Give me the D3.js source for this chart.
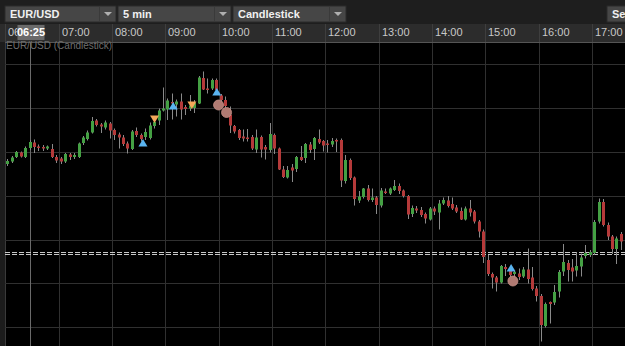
<!DOCTYPE html>
<html>
<head>
<meta charset="utf-8">
<script src="https://cdn.jsdelivr.net/npm/d3@7/dist/d3.min.js"></script>
<style>
  body { margin: 0; background: #000; overflow: hidden; }
  svg { display: block; font-family: "Liberation Sans", Arial, sans-serif; }
</style>
</head>
<body>
<svg id="chart" width="625" height="346"></svg>
<script>
// toolbar
const symbolName = "EUR/USD";
const intervalName = "5 min";
const chartTypeName = "Candlestick";

// 5 minute bars starting 06:00
const firstBar = "06:00";
const barMinutes = 5;

const openP = [
  1.34072,1.34077,1.34086,1.34095,1.34086,1.34104,1.34115,1.34107,1.34106,1.34103,
  1.34102,1.34086,1.34083,1.34077,1.34091,1.34086,1.34086,1.34114,1.34122,1.34135,
  1.34159,1.34151,1.34145,1.34153,1.34140,1.34131,1.34125,1.34113,1.34102,1.34138,
  1.34130,1.34126,1.34124,1.34148,1.34159,1.34179,1.34181,1.34196,1.34191,1.34197,
  1.34186,1.34183,1.34184,1.34193,1.34244,1.34223,1.34223,1.34240,1.34209,1.34200,
  1.34170,1.34148,1.34140,1.34127,1.34125,1.34126,1.34101,1.34126,1.34106,1.34100,
  1.34130,1.34103,1.34061,1.34045,1.34065,1.34062,1.34086,1.34084,1.34111,1.34102,
  1.34122,1.34118,1.34113,1.34111,1.34120,1.34120,1.34038,1.34080,1.34045,1.33999,
  1.34006,1.34023,1.34000,1.34005,1.33989,1.34017,1.34013,1.34020,1.34028,1.34019,
  1.34008,1.33972,1.33983,1.33980,1.33972,1.33961,1.33983,1.33975,1.33993,1.33999,
  1.33992,1.33985,1.33978,1.33961,1.33983,1.33977,1.33957,1.33937,1.33880,1.33852,
  1.33845,1.33835,1.33866,1.33860,1.33852,1.33853,1.33847,1.33861,1.33845,1.33823,
  1.33808,1.33748,1.33796,1.33795,1.33817,1.33857,1.33874,1.33865,1.33859,1.33867,
  1.33888,1.33890,1.33894,1.33957,1.33996,1.33950,1.33927,1.33902,1.33932
];
const highP = [
  1.34082,1.34088,1.34098,1.34097,1.34107,1.34120,1.34121,1.34111,1.34110,1.34109,
  1.34112,1.34090,1.34086,1.34094,1.34094,1.34094,1.34115,1.34128,1.34139,1.34166,
  1.34162,1.34154,1.34159,1.34156,1.34143,1.34135,1.34130,1.34117,1.34140,1.34145,
  1.34133,1.34143,1.34155,1.34160,1.34183,1.34225,1.34203,1.34213,1.34201,1.34213,
  1.34190,1.34210,1.34200,1.34248,1.34257,1.34243,1.34243,1.34243,1.34212,1.34207,
  1.34187,1.34150,1.34142,1.34141,1.34142,1.34130,1.34141,1.34129,1.34110,1.34154,
  1.34133,1.34105,1.34068,1.34068,1.34072,1.34088,1.34108,1.34114,1.34116,1.34126,
  1.34141,1.34120,1.34120,1.34124,1.34123,1.34123,1.34090,1.34083,1.34047,1.34018,
  1.34024,1.34030,1.34023,1.34008,1.34024,1.34023,1.34025,1.34040,1.34033,1.34021,
  1.34010,1.33989,1.33988,1.33986,1.33975,1.33986,1.33987,1.34000,1.34005,1.34008,
  1.34005,1.33990,1.33985,1.33987,1.34000,1.33980,1.33960,1.33941,1.33890,1.33855,
  1.33848,1.33870,1.33872,1.33864,1.33858,1.33863,1.33866,1.33903,1.33866,1.33828,
  1.33812,1.33795,1.33797,1.33830,1.33860,1.33912,1.33880,1.33882,1.33895,1.33893,
  1.33910,1.33900,1.33960,1.34003,1.34002,1.33955,1.33930,1.33927,1.33936
];
const lowP = [
  1.34068,1.34074,1.34084,1.34085,1.34084,1.34100,1.34094,1.34098,1.34098,1.34100,
  1.34084,1.34074,1.34072,1.34074,1.34080,1.34082,1.34084,1.34110,1.34119,1.34133,
  1.34147,1.34134,1.34141,1.34123,1.34120,1.34103,1.34108,1.34093,1.34100,1.34126,
  1.34117,1.34120,1.34121,1.34143,1.34150,1.34177,1.34160,1.34161,1.34167,1.34161,
  1.34170,1.34178,1.34174,1.34192,1.34220,1.34213,1.34220,1.34216,1.34196,1.34180,
  1.34134,1.34133,1.34120,1.34117,1.34117,1.34100,1.34094,1.34085,1.34081,1.34095,
  1.34092,1.34060,1.34044,1.34043,1.34036,1.34056,1.34078,1.34074,1.34094,1.34080,
  1.34112,1.34097,1.34095,1.34106,1.34096,1.34026,1.34033,1.34040,1.33989,1.33994,
  1.34003,1.33997,1.33996,1.33972,1.33985,1.34012,1.34010,1.34018,1.34012,1.34005,
  1.33962,1.33966,1.33974,1.33966,1.33953,1.33959,1.33970,1.33941,1.33990,1.33985,
  1.33980,1.33974,1.33960,1.33959,1.33967,1.33953,1.33925,1.33874,1.33848,1.33823,
  1.33817,1.33833,1.33848,1.33844,1.33836,1.33840,1.33844,1.33833,1.33819,1.33797,
  1.33717,1.33745,1.33753,1.33790,1.33805,1.33848,1.33837,1.33837,1.33847,1.33847,
  1.33883,1.33886,1.33890,1.33953,1.33947,1.33920,1.33892,1.33872,1.33900
];
const closeP = [
  1.34078,1.34085,1.34096,1.34087,1.34104,1.34116,1.34106,1.34104,1.34104,1.34107,
  1.34086,1.34079,1.34077,1.34092,1.34086,1.34090,1.34113,1.34125,1.34135,1.34158,
  1.34150,1.34147,1.34155,1.34139,1.34130,1.34125,1.34112,1.34103,1.34137,1.34130,
  1.34122,1.34136,1.34149,1.34156,1.34179,1.34183,1.34199,1.34193,1.34197,1.34181,
  1.34182,1.34189,1.34194,1.34245,1.34221,1.34220,1.34240,1.34220,1.34200,1.34188,
  1.34149,1.34137,1.34124,1.34123,1.34122,1.34103,1.34125,1.34101,1.34101,1.34132,
  1.34103,1.34061,1.34046,1.34060,1.34059,1.34086,1.34080,1.34112,1.34100,1.34124,
  1.34115,1.34109,1.34110,1.34118,1.34117,1.34039,1.34080,1.34044,1.34002,1.34007,
  1.34023,1.34000,1.34005,1.33990,1.34019,1.34014,1.34023,1.34028,1.34018,1.34008,
  1.33971,1.33984,1.33979,1.33970,1.33963,1.33983,1.33977,1.33993,1.34000,1.33988,
  1.33983,1.33977,1.33961,1.33983,1.33975,1.33957,1.33937,1.33886,1.33852,1.33845,
  1.33835,1.33868,1.33862,1.33850,1.33856,1.33846,1.33861,1.33842,1.33822,1.33808,
  1.33750,1.33792,1.33792,1.33816,1.33856,1.33876,1.33860,1.33857,1.33868,1.33885,
  1.33894,1.33896,1.33956,1.33996,1.33950,1.33927,1.33902,1.33923,1.33917
];

// axis
const hourLabels = ["06:00","07:00","08:00","09:00","10:00","11:00","12:00",
                    "13:00","14:00","15:00","16:00","17:00"];
const gridPrices = [1.34272, 1.34184, 1.34096, 1.34008, 1.33921, 1.33834, 1.33746];
const cursorTime = "06:25";
const priceLine = 1.33892;

// trade markers
const buyTimes = ["08:35", "09:09", "09:58", "15:29"];
const buyPrices = [1.34114, 1.34188, 1.34216, 1.33864];
const sellTimes = ["08:48", "09:30"];
const sellPrices = [1.34162, 1.34190];
const exitTimes = ["10:00", "10:09", "15:31"];
const exitPrices = [1.34190, 1.34175, 1.33838];

const W = 625, H = 346;
const plotTop = 42, plotLeft = 5;
const parseT = d3.timeParse("%H:%M");
const t0 = parseT(firstBar);

const x = d3.scaleTime()
  .domain([t0, parseT("17:40")])
  .range([5.15, 627.6]);
const y = d3.scaleLinear()
  .domain([1.3440, 1.3360])
  .range([0, 400]);

const bars = openP.map((o, i) => ({
  t: d3.timeMinute.offset(t0, barMinutes * i),
  o: o, h: highP[i], l: lowP[i], c: closeP[i]
}));
const halfBar = (x(d3.timeMinute.offset(t0, barMinutes)) - x(t0)) / 2;
const px = v => Math.round(v) + 0.5;
const cx = px(x(parseT(cursorTime)) + halfBar);

const svg = d3.select("#chart");

// the cursor label hides most of the first hour label
svg.append("clipPath").attr("id", "axisClip")
  .append("rect").attr("x", 0).attr("y", 24).attr("width", cx - 13).attr("height", 18);

// toolbar
svg.append("rect").attr("width", W).attr("height", 24).attr("fill", "#1e1e1e");
const boxes = [
  {label: symbolName, x0: 5, x1: 116},
  {label: intervalName, x0: 118, x1: 231},
  {label: chartTypeName, x0: 233, x1: 346}
];
const tb = svg.append("g");
boxes.forEach(b => {
  tb.append("rect").attr("x", b.x0).attr("y", 6).attr("width", b.x1 - b.x0).attr("height", 16)
    .attr("fill", "#464646").attr("stroke", "#2a2a2a");
  tb.append("line").attr("x1", b.x1 - 16.5).attr("x2", b.x1 - 16.5).attr("y1", 7).attr("y2", 21)
    .attr("stroke", "#3a3a3a");
  tb.append("path")
    .attr("d", `M${b.x1 - 12},12 L${b.x1 - 4},12 L${b.x1 - 8},16 Z`)
    .attr("fill", "#b0b0b0");
  tb.append("text").attr("x", b.x0 + 5).attr("y", 18).text(b.label)
    .attr("fill", "#f0f0f0").attr("font-size", 11).attr("font-weight", "bold");
});
tb.append("rect").attr("x", 607).attr("y", 6).attr("width", 24).attr("height", 16)
  .attr("fill", "#464646").attr("stroke", "#2a2a2a");
tb.append("text").attr("x", 612).attr("y", 18).text("Se")
  .attr("fill", "#f0f0f0").attr("font-size", 11).attr("font-weight", "bold");

// time axis strip
svg.append("rect").attr("y", 24).attr("width", W).attr("height", 18).attr("fill", "#2c2c2c");
const axisG = svg.append("g");
hourLabels.forEach((s, i) => {
  const xx = px(x(parseT(s)));
  axisG.append("line").attr("x1", xx).attr("x2", xx).attr("y1", 24).attr("y2", 42).attr("stroke", "#3e3e3e");
  const t = axisG.append("text").attr("x", xx + 2.5).attr("y", 36).text(s)
    .attr("fill", "#c8c8c8").attr("font-size", 11);
  if (i === 0) t.attr("clip-path", "url(#axisClip)");
});

// plot area
svg.append("rect").attr("x", plotLeft).attr("y", plotTop).attr("width", W - plotLeft)
  .attr("height", H - plotTop).attr("fill", "#000");
svg.append("rect").attr("x", 0).attr("y", plotTop).attr("width", plotLeft).attr("height", H - plotTop)
  .attr("fill", "#1c1c1c");
svg.append("line").attr("x1", plotLeft + 0.5).attr("x2", plotLeft + 0.5).attr("y1", plotTop).attr("y2", H)
  .attr("stroke", "#3a3a3a");

const grid = svg.append("g");
grid.selectAll(".hg").data(gridPrices).join("line")
  .attr("x1", plotLeft).attr("x2", W)
  .attr("y1", d => px(y(d))).attr("y2", d => px(y(d)))
  .attr("stroke", "#303030");
grid.selectAll(".vg").data(hourLabels.slice(1)).join("line")
  .attr("x1", d => px(x(parseT(d)))).attr("x2", d => px(x(parseT(d))))
  .attr("y1", plotTop).attr("y2", H)
  .attr("stroke", "#303030");
svg.append("line").attr("x1", plotLeft).attr("x2", W).attr("y1", plotTop + 0.5).attr("y2", plotTop + 0.5)
  .attr("stroke", "#555");

// crosshair
svg.append("line").attr("x1", cx).attr("x2", cx).attr("y1", plotTop).attr("y2", H).attr("stroke", "#6a6a6a");

svg.append("text").attr("x", 6).attr("y", 49).text(`${symbolName} (${chartTypeName})`)
  .attr("fill", "#6e6e6e").attr("font-size", 10);

// price line
const ply = Math.round(y(priceLine));
[ply - 1.5, ply + 0.5].forEach(yy => {
  svg.append("line").attr("x1", plotLeft).attr("x2", W).attr("y1", yy).attr("y2", yy)
    .attr("stroke", "#c8c8c8").attr("stroke-dasharray", "5,2");
});

// candles
const cg = svg.append("g");
const candle = cg.selectAll("g").data(bars).join("g")
  .attr("transform", d => `translate(${Math.round(x(d.t) + halfBar)},0)`);
candle.append("line")
  .attr("x1", 0.5).attr("x2", 0.5)
  .attr("y1", d => y(d.h)).attr("y2", d => y(d.l))
  .attr("stroke", "#8a8a8a");
candle.append("rect")
  .attr("x", -1).attr("width", 3)
  .attr("y", d => y(Math.max(d.o, d.c)))
  .attr("height", d => Math.max(1.5, Math.abs(y(d.o) - y(d.c))))
  .attr("fill", d => d.c >= d.o ? "#44a043" : "#b53a3a");

// trade markers
const mg = svg.append("g");
buyTimes.forEach((s, i) => {
  const mx = x(parseT(s)), my = y(buyPrices[i]);
  mg.append("path").attr("d", `M${mx},${my - 4} L${mx + 4.5},${my + 3.5} L${mx - 4.5},${my + 3.5} Z`)
    .attr("fill", "#5ab4f0");
});
sellTimes.forEach((s, i) => {
  const mx = x(parseT(s)), my = y(sellPrices[i]);
  mg.append("path").attr("d", `M${mx - 4.5},${my - 3.5} L${mx + 4.5},${my - 3.5} L${mx},${my + 4} Z`)
    .attr("fill", "#f4a85a");
});
exitTimes.forEach((s, i) => {
  mg.append("circle").attr("cx", x(parseT(s))).attr("cy", y(exitPrices[i])).attr("r", 5)
    .attr("fill", "#b07a72").attr("stroke", "#c89088").attr("stroke-width", 0.8);
});

// cursor time label on the axis
const lab = svg.append("g");
lab.append("rect").attr("x", cx - 13).attr("y", 25).attr("width", 27).attr("height", 15).attr("fill", "#6a6a6a");
lab.append("text").attr("x", cx + 0.5).attr("y", 36).attr("text-anchor", "middle").text(cursorTime)
  .attr("fill", "#fff").attr("font-size", 11).attr("font-weight", "bold");
</script>
</body>
</html>
